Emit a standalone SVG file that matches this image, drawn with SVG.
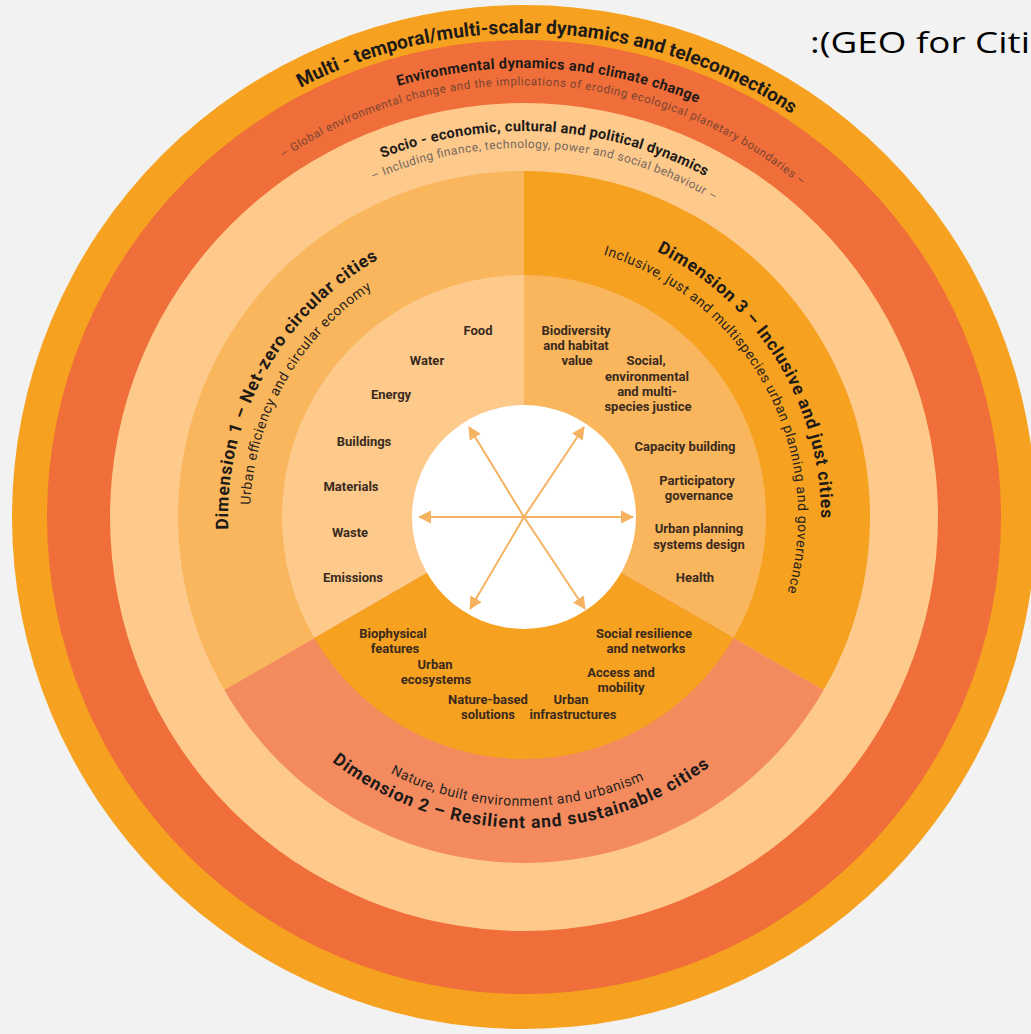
<svg xmlns="http://www.w3.org/2000/svg" width="1031" height="1034" viewBox="0 0 1031 1034">
<defs>
<style>
.title{font-family:Roboto,"Liberation Sans",sans-serif;font-weight:700;fill:#1e1a18}
.sub{font-family:Roboto,"Liberation Sans",sans-serif;font-weight:400;fill:#2a2420}
.gray{font-family:Roboto,"Liberation Sans",sans-serif;font-weight:400}
.item{font-family:Roboto,"Liberation Sans",sans-serif;font-weight:700;font-size:13px;fill:#3a2a1e;text-anchor:middle}
.arrow{stroke:#f5b261;stroke-width:2;fill:none;marker-end:url(#ah)}
</style>
<marker id="ah" viewBox="0 0 13 13" refX="12" refY="6.5" markerWidth="13" markerHeight="13" markerUnits="userSpaceOnUse" orient="auto">
<path d="M0,0 L13,6.5 L0,13 Z" fill="#f5b261"/>
</marker>
<path id="pMulti" d="M40,517 A484,484 0 0 1 1008,517"/>
<path id="pEnv" d="M75,517 A449,449 0 0 1 973,517"/>
<path id="pGlob" d="M92,517 A432,432 0 0 1 956,517"/>
<path id="pSocio" d="M138,517 A386,386 0 0 1 910,517"/>
<path id="pIncl" d="M155,517 A369,369 0 0 1 893,517"/>
<path id="pD1t" d="M524,813 A296,296 0 0 1 524,221"/>
<path id="pD1s" d="M524,791 A274,274 0 0 1 524,243"/>
<path id="pD3t" d="M524,220 A297,297 0 0 1 524,814"/>
<path id="pD3s" d="M524,243 A274,274 0 0 1 524,791"/>
<path id="pD2t" d="M213,517 A311,311 0 0 0 835,517"/>
<path id="pD2s" d="M235,517 A289,289 0 0 0 813,517"/>
</defs>
<rect width="1031" height="1034" fill="#f2f2f2"/>
<g id="rings">
<circle cx="524" cy="517" r="512" fill="#f6a11f"/>
<circle cx="524" cy="517" r="477" fill="#ef6e39"/>
<circle cx="524" cy="517" r="414" fill="#fdca8c"/>
</g>
<g id="dimension1">
<path d="M524,517 L224.36,690 A346,346 0 0 1 524,171 Z" fill="#f9b65c"/>
<path d="M524,517 L314.42,638 A242,242 0 0 1 524,275 Z" fill="#fdca8c"/>
</g>
<g id="dimension3">
<path d="M524,517 L524,171 A346,346 0 0 1 823.64,690 Z" fill="#f6a11f"/>
<path d="M524,517 L524,275 A242,242 0 0 1 733.58,638 Z" fill="#f9b65c"/>
</g>
<g id="dimension2">
<path d="M524,517 L823.64,690 A346,346 0 0 1 224.36,690 Z" fill="#f48b5f"/>
<path d="M524,517 L733.58,638 A242,242 0 0 1 314.42,638 Z" fill="#f6a11f"/>
</g>
<g id="centre">
<circle cx="524" cy="517" r="112" fill="#ffffff"/>
</g>
<g id="connectors">
<line class="arrow" x1="524" y1="517" x2="633" y2="517"/>
<line class="arrow" x1="524" y1="517" x2="419" y2="517"/>
<line class="arrow" x1="524" y1="517" x2="584" y2="427"/>
<line class="arrow" x1="524" y1="517" x2="469" y2="427"/>
<line class="arrow" x1="524" y1="517" x2="470" y2="609"/>
<line class="arrow" x1="524" y1="517" x2="585" y2="609"/>
</g>
<g id="ring-labels">
<text class="title" font-size="19" text-anchor="middle"><textPath href="#pMulti" startOffset="785.7" textLength="516" lengthAdjust="spacing">Multi - temporal/multi-scalar dynamics and teleconnections</textPath></text>
<text class="title" font-size="14.5" text-anchor="middle"><textPath href="#pEnv" startOffset="730.4" textLength="306" lengthAdjust="spacing">Environmental dynamics and climate change</textPath></text>
<text class="gray" font-size="11.5" fill="#7a4433" text-anchor="middle"><textPath href="#pGlob" startOffset="701.2" textLength="556" lengthAdjust="spacing">– Global environmental change and the implications of eroding ecological planetary boundaries –</textPath></text>
<text class="title" font-size="14.5" text-anchor="middle"><textPath href="#pSocio" startOffset="627.9" textLength="334" lengthAdjust="spacing">Socio - economic, cultural and political dynamics</textPath></text>
<text class="gray" font-size="12" fill="#76675c" text-anchor="middle"><textPath href="#pIncl" startOffset="601.5" textLength="355" lengthAdjust="spacing">– Including finance, technology, power and social behaviour –</textPath></text>
</g>
<g id="dim1-labels">
<text class="title" font-size="17.5" text-anchor="middle"><textPath href="#pD1t" startOffset="614.8" textLength="325" lengthAdjust="spacing">Dimension 1 – Net-zero circular cities</textPath></text>
<text class="sub" font-size="14" text-anchor="middle"><textPath href="#pD1s" startOffset="570.8" textLength="257" lengthAdjust="spacing">Urban efficiency and circular economy</textPath></text>
<text class="item" x="478" y="335">Food</text>
<text class="item" x="427" y="365">Water</text>
<text class="item" x="391" y="399">Energy</text>
<text class="item" x="364" y="446">Buildings</text>
<text class="item" x="351" y="491">Materials</text>
<text class="item" x="350" y="537">Waste</text>
<text class="item" x="353" y="582">Emissions</text>
</g>
<g id="dim3-labels">
<text class="title" font-size="17.5" text-anchor="middle"><textPath href="#pD3t" startOffset="302.5" textLength="330" lengthAdjust="spacing">Dimension 3 – Inclusive and just cities</textPath></text>
<text class="sub" font-size="14" text-anchor="middle"><textPath href="#pD3s" startOffset="293.4" textLength="426" lengthAdjust="spacing">Inclusive, just and multispecies urban planning and governance</textPath></text>
<text class="item" x="576" y="335">Biodiversity</text>
<text class="item" x="576" y="350">and habitat</text>
<text class="item" x="577" y="365">value</text>
<text class="item" x="646" y="365">Social,</text>
<text class="item" x="647" y="381">environmental</text>
<text class="item" x="647" y="396">and multi-</text>
<text class="item" x="648" y="411">species justice</text>
<text class="item" x="685" y="451">Capacity building</text>
<text class="item" x="697" y="485">Participatory</text>
<text class="item" x="699" y="500">governance</text>
<text class="item" x="699" y="533">Urban planning</text>
<text class="item" x="699" y="549">systems design</text>
<text class="item" x="695" y="582">Health</text>
</g>
<g id="dim2-labels">
<text class="title" font-size="17.5" text-anchor="middle"><textPath href="#pD2t" startOffset="484.3" textLength="406" lengthAdjust="spacing">Dimension 2 – Resilient and sustainable cities</textPath></text>
<text class="sub" font-size="14" text-anchor="middle"><textPath href="#pD2s" startOffset="446.4" textLength="263" lengthAdjust="spacing">Nature, built environment and urbanism</textPath></text>
<text class="item" x="393" y="638">Biophysical</text>
<text class="item" x="395" y="653">features</text>
<text class="item" x="435" y="669">Urban</text>
<text class="item" x="436" y="684">ecosystems</text>
<text class="item" x="488" y="704">Nature-based</text>
<text class="item" x="488" y="719">solutions</text>
<text class="item" x="571" y="704">Urban</text>
<text class="item" x="573" y="719">infrastructures</text>
<text class="item" x="644" y="638">Social resilience</text>
<text class="item" x="646" y="653">and networks</text>
<text class="item" x="621" y="677">Access and</text>
<text class="item" x="621" y="692">mobility</text>
</g>
<g id="caption">
<text transform="translate(810,53) scale(1.257,1)" x="0" y="0" font-family="'Open Sans','Noto Sans',sans-serif" font-size="29" fill="#000000" textLength="175" lengthAdjust="spacingAndGlyphs">:(GEO for Citi</text>
</g>
</svg>
